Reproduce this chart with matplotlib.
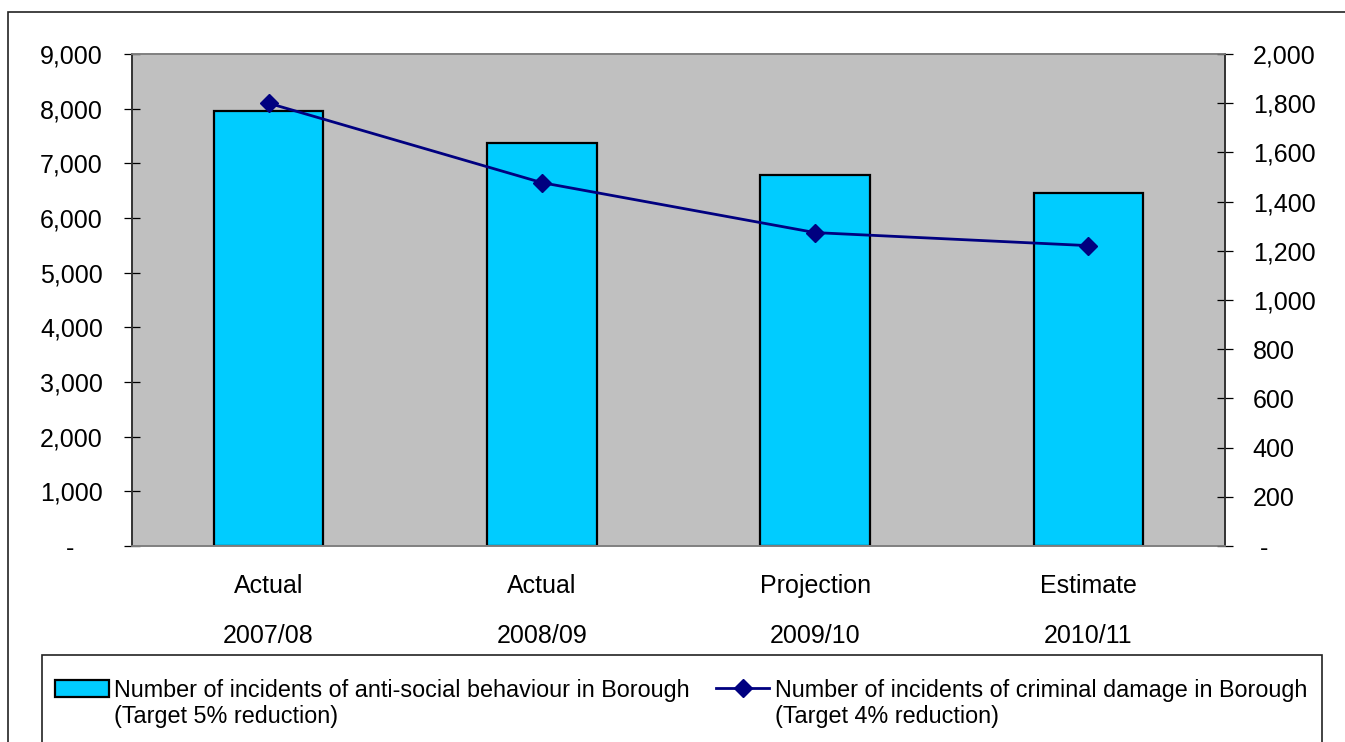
import matplotlib
matplotlib.use("Agg")
import matplotlib.pyplot as plt
from matplotlib.patches import Rectangle
from matplotlib.ticker import FuncFormatter, MultipleLocator

# categories and values
status = ["Actual", "Actual", "Projection", "Estimate"]
years = ["2007/08", "2008/09", "2009/10", "2010/11"]
asb_incidents = [7960, 7370, 6790, 6450]
criminal_damage = [1800, 1477, 1274, 1221]

asb_label = ["Number of incidents of anti-social behaviour in Borough", "(Target 5% reduction)"]
cd_label = ["Number of incidents of criminal damage in Borough", "(Target 4% reduction)"]

plt.rcParams["font.family"] = ["Liberation Sans", "DejaVu Sans"]

W, H = 1345, 742
fig = plt.figure(figsize=(W / 100, H / 100), dpi=100)
ax = fig.add_axes([132 / W, 1 - 546 / H, (1225 - 132) / W, (546 - 54) / H])
ax2 = ax.twinx()

x = list(range(len(years)))
bars = ax.bar(x, asb_incidents, width=0.4, color="#00CCFF", edgecolor="black",
              linewidth=1.6, zorder=2)
line, = ax2.plot(x, criminal_damage, color="#000080", linewidth=2,
                 marker="D", markersize=9, zorder=3)

ax.set_facecolor("#C0C0C0")
ax.set_xlim(-0.5, len(years) - 0.5)
ax.set_ylim(0, 9000)
ax2.set_ylim(0, 2000)
ax.yaxis.set_major_locator(MultipleLocator(1000))
ax2.yaxis.set_major_locator(MultipleLocator(200))

ax.yaxis.set_major_formatter(FuncFormatter(lambda v, p: "-    " if v == 0 else f"{int(v):,}"))
ax2.yaxis.set_major_formatter(FuncFormatter(lambda v, p: " -" if v == 0 else f"{int(v):,}"))

ax.set_xticks(x)
ax.set_xticklabels([f"{s}\n\n{y}" for s, y in zip(status, years)], linespacing=1.05)
ax.tick_params(axis="x", length=0, pad=20, labelsize=18)
ax.tick_params(axis="y", direction="inout", length=12, width=0.9, pad=15, labelsize=18)
ax2.tick_params(axis="y", direction="inout", length=12, width=0.9, pad=14, labelsize=18)

for a in (ax, ax2):
    a.spines["left"].set_color("#333333")
    a.spines["right"].set_color("#333333")
    a.spines["top"].set_color("#808080")
    a.spines["bottom"].set_color("#808080")
    for s in a.spines.values():
        s.set_linewidth(1.2)

# outer chart border and legend box
fig.patches.append(Rectangle((8 / W, -0.1), 1.2, 1 - 12 / H + 0.1, transform=fig.transFigure,
                             fill=False, edgecolor="#222222", linewidth=1.2))
fig.patches.append(Rectangle((42 / W, -0.1), (1322 - 42) / W, 0.1 + (742 - 655) / H,
                             transform=fig.transFigure, fill=False,
                             edgecolor="#222222", linewidth=1.2))

leg = fig.legend([bars, line], [asb_label[0], cd_label[0]], loc="center left",
                 bbox_to_anchor=(55 / W, 1 - 690 / H), ncol=2, frameon=False,
                 fontsize=16.8, handlelength=2.3, handleheight=0.75, handletextpad=0.25,
                 columnspacing=1.1, borderpad=0, borderaxespad=0)

# second line of each legend entry, under the first
fig.canvas.draw()
inv = fig.transFigure.inverted()
for txt, second in zip(leg.get_texts(), [asb_label[1], cd_label[1]]):
    bb = txt.get_window_extent()
    x0, _ = inv.transform((bb.x0, bb.y0))
    fig.text(x0, 1 - 716 / H, second, fontsize=16.8, va="center", ha="left")

fig.savefig("out.png", dpi=100)
